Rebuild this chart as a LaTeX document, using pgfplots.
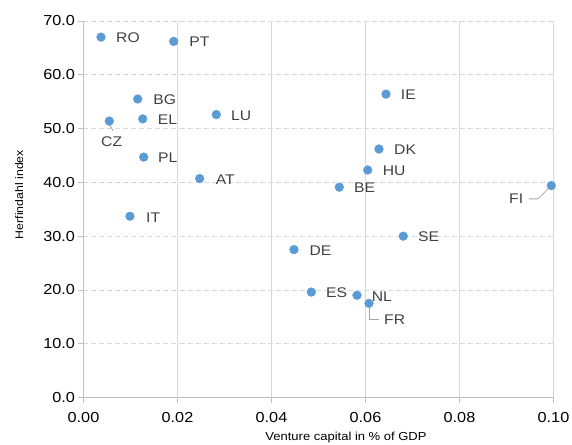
\documentclass[border=0pt]{standalone}
\usepackage{pgfplots}
\pgfplotsset{compat=1.18}
\usepackage{pgfplotstable}
\usepackage{fontspec}
\setmainfont{Liberation Sans}[FakeStretch=1.12]
\definecolor{ptblue}{HTML}{5B9BD5}
\definecolor{labgray}{HTML}{404040}
\definecolor{gridgray}{HTML}{D9D9D9}
\definecolor{axisgray}{HTML}{BFBFBF}
\definecolor{leadgray}{HTML}{A6A6A6}

\pgfplotstableread{
x       y     lab dx    dy
0.00372 67.0  RO  15    -0.7
0.01919 66.2  PT  15.5  -0.7
0.01153 55.5  BG  15.5  -0.3
0.01260 51.8  EL  15    -0.3
0.00549 51.4  CZ  -8.3  -21
0.02826 52.6  LU  14.7  -0.7
0.01281 44.7  PL  14.3  -0.7
0.02472 40.7  AT  16    -1.3
0.00989 33.7  IT  16    -1
0.06436 56.4  IE  14.7  -1
0.06287 46.2  DK  15    -0.7
0.06047 42.3  HU  15    -1
0.05443 39.1  BE  14.7  -0.7
0.09953 39.4  FI  -42.3 -13.3
0.06804 30.0  SE  14.7  -0.7
0.04479 27.5  DE  15.3  -1.3
0.04847 19.6  ES  14.7  -0.7
0.05819 19.0  NL  14.7  -1.3
0.06074 17.5  FR  15    -16.7
}\datatable

\begin{document}
\begin{tikzpicture}
\begin{axis}[
  scale only axis,
  width=470bp, height=376.5bp,
  xmin=0, xmax=0.1, ymin=0, ymax=70,
  xtick={0,0.02,0.04,0.06,0.08,0.1},
  ytick={0,10,20,30,40,50,60,70},
  scaled x ticks=false, scaled y ticks=false,
  axis x line*=bottom, axis y line*=left,
  axis line style={draw=axisgray, line width=0.8bp, -},
  tick align=outside,
  major tick length=5bp,
  tick style={draw=axisgray, line width=0.8bp},
  xmajorgrids, ymajorgrids,
  x grid style={draw=gridgray, line width=0.8bp},
  y grid style={draw=gridgray, line width=0.8bp, dash pattern=on 5bp off 3bp},
  /pgf/number format/assume math mode=true,
  xticklabel style={/pgf/number format/.cd, fixed, fixed zerofill, precision=2, /tikz/.cd, yshift=-6bp},
  yticklabel style={/pgf/number format/.cd, fixed, fixed zerofill, precision=1},
  ticklabel style={font=\fontsize{14.5bp}{17bp}\selectfont, text=black},
  xlabel={Venture capital in \% of GDP},
  ylabel={Herfindahl index},
  xlabel style={at={(axis description cs:0.5585,-0.1155)}, anchor=base, font=\fontsize{11.6bp}{14bp}\selectfont},
  ylabel style={at={(axis description cs:-0.137,0.539)}, anchor=center, font=\fontsize{11bp}{13bp}\selectfont},
  clip=false,
]
\addplot[
  only marks, mark=*, mark size=4.4pt, color=ptblue,
  mark options={draw=ptblue, fill=ptblue},
  point meta=explicit symbolic,
  visualization depends on={\thisrow{dx} \as \dx},
  visualization depends on={\thisrow{dy} \as \dy},
  nodes near coords={\pgfplotspointmeta},
  nodes near coords style={anchor=west, inner sep=0pt, xshift=\dx bp, yshift=\dy bp,
    font=\fontsize{14bp}{17bp}\selectfont, text=labgray},
] table[x=x, y=y, meta=lab] {\datatable};
% leader lines
\draw[leadgray, line width=0.8bp] (axis cs:0.00549,51.4) ++(0.7bp,-4bp) -- ++(3bp,-6bp);
\draw[leadgray, line width=0.8bp] (axis cs:0.09953,39.4) ++(-3bp,-3bp) -- ++(-10.3bp,-10.3bp) -- ++(-9bp,0bp);
\draw[leadgray, line width=0.8bp] (axis cs:0.06074,17.5) ++(0bp,-4.5bp) -- ++(0bp,-11.2bp) -- ++(10bp,0bp);
\coordinate (O) at (rel axis cs:0,0);
\end{axis}
\pgfresetboundingbox
\path[use as bounding box] (O) ++(-83.5bp,-47.5bp) rectangle ++(572bp,445bp);
\end{tikzpicture}
\end{document}
